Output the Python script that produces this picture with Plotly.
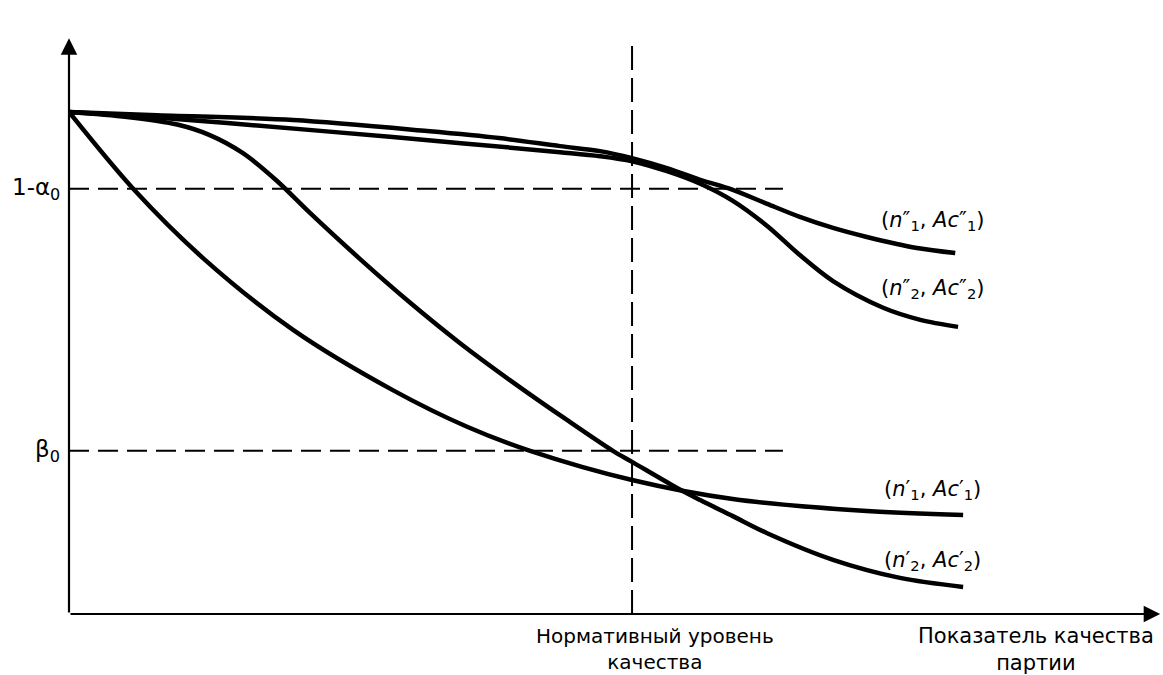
import plotly.graph_objects as go

# Operating characteristic curves (x: quality level, 1.0 = normative level; y: acceptance probability)
x_n1pp = [0, 0.144, 0.398, 0.636, 0.764, 0.872, 0.943, 1.0, 1.062, 1.121, 1.179, 1.240, 1.298, 1.357, 1.417, 1.506, 1.574]
y_n1pp = [1.0, 0.994, 0.984, 0.962, 0.948, 0.932, 0.922, 0.908, 0.888, 0.865, 0.845, 0.817, 0.791, 0.769, 0.751, 0.729, 0.719]

x_n2pp = [0, 0.144, 0.281, 0.575, 0.872, 0.943, 1.0, 1.062, 1.121, 1.179, 1.240, 1.298, 1.357, 1.446, 1.512, 1.579]
y_n2pp = [1.0, 0.990, 0.978, 0.950, 0.920, 0.912, 0.902, 0.882, 0.857, 0.823, 0.773, 0.715, 0.663, 0.610, 0.586, 0.572]

x_n1p = [0, 0.114, 0.238, 0.398, 0.575, 0.707, 0.819, 1.0, 1.179, 1.417, 1.588]
y_n1p = [1.0, 0.847, 0.709, 0.566, 0.446, 0.373, 0.325, 0.267, 0.229, 0.205, 0.197]

x_n2p = [0, 0.103, 0.192, 0.250, 0.309, 0.369, 0.428, 0.517, 0.606, 0.694, 0.783, 0.885, 0.966, 1.0, 1.080, 1.121, 1.179, 1.240, 1.357, 1.476, 1.588]
y_n2p = [1.0, 0.990, 0.975, 0.954, 0.918, 0.863, 0.799, 0.707, 0.620, 0.540, 0.466, 0.386, 0.325, 0.303, 0.251, 0.227, 0.195, 0.161, 0.108, 0.072, 0.054]

curve_labels = [
    "(<i>n</i>″<sub>1</sub>, <i>Ac</i>″<sub>1</sub>)",
    "(<i>n</i>″<sub>2</sub>, <i>Ac</i>″<sub>2</sub>)",
    "(<i>n</i>′<sub>1</sub>, <i>Ac</i>′<sub>1</sub>)",
    "(<i>n</i>′<sub>2</sub>, <i>Ac</i>′<sub>2</sub>)",
]
label_y = [0.783, 0.647, 0.247, 0.106]
label_x = 1.533

one_minus_alpha = 0.847
beta0 = 0.325
norm_level = 1.0
hline_end = 1.268
vline_top = 1.133
x_axis_end = 1.938
y_axis_end = 1.147

x_range = [0, 1.943]
y_range = [0, 1.2231]

FONT = "DejaVu Sans, Liberation Sans, Arial, sans-serif"

curves = [(x_n1pp, y_n1pp), (x_n2pp, y_n2pp), (x_n1p, y_n1p), (x_n2p, y_n2p)]

fig = go.Figure()
for xs, ys in curves:
    fig.add_trace(go.Scatter(x=xs, y=ys, mode="lines",
                             line=dict(color="black", width=4.5, shape="spline", smoothing=0.9),
                             showlegend=False, hoverinfo="skip"))

shapes = [
    dict(type="line", xref="x", yref="y", x0=0, x1=hline_end, y0=one_minus_alpha, y1=one_minus_alpha,
         line=dict(color="black", width=2, dash="20px,9px")),
    dict(type="line", xref="x", yref="y", x0=0, x1=hline_end, y0=beta0, y1=beta0,
         line=dict(color="black", width=2, dash="20px,9px")),
    dict(type="line", xref="x", yref="y", x0=norm_level, x1=norm_level, y0=0, y1=vline_top,
         line=dict(color="black", width=2, dash="24px,8px")),
]

annotations = []
# axes with arrows
annotations.append(dict(x=x_axis_end, y=0, ax=0, ay=0, xref="x", yref="y", axref="x", ayref="y",
                        showarrow=True, arrowhead=2, arrowsize=1.5, arrowwidth=2.2, arrowcolor="black",
                        standoff=0, startstandoff=0, text=""))
annotations.append(dict(x=0, y=y_axis_end, ax=0, ay=0, xref="x", yref="y", axref="x", ayref="y",
                        showarrow=True, arrowhead=2, arrowsize=1.5, arrowwidth=2.2, arrowcolor="black",
                        standoff=0, startstandoff=0, text=""))

for lab, ly in zip(curve_labels, label_y):
    annotations.append(dict(x=label_x, y=ly, xref="x", yref="y", text=lab, showarrow=False,
                            font=dict(family=FONT, size=21, color="black"), xanchor="center", yanchor="middle"))

# labels outside the plotting area (paper coordinates)
annotations.append(dict(x=-0.006, y=0.692, xref="paper", yref="paper", text="1-α<sub>0</sub>",
                        showarrow=False, xanchor="right", yanchor="middle",
                        font=dict(family=FONT, size=23, color="black")))
annotations.append(dict(x=-0.006, y=0.2655, xref="paper", yref="paper", text="β<sub>0</sub>",
                        showarrow=False, xanchor="right", yanchor="middle",
                        font=dict(family=FONT, size=23, color="black")))
annotations.append(dict(x=0.5356, y=-0.013, xref="paper", yref="paper", text="Нормативный уровень<br>качества",
                        showarrow=False, xanchor="center", yanchor="top", align="center",
                        font=dict(family=FONT, size=20, color="black")))
annotations.append(dict(x=0.8839, y=-0.013, xref="paper", yref="paper", text="Показатель качества<br>партии",
                        showarrow=False, xanchor="center", yanchor="top", align="center",
                        font=dict(family=FONT, size=21, color="black")))

fig.update_layout(
    width=1163, height=675,
    margin=dict(l=69, r=0, t=0, b=61),
    paper_bgcolor="white", plot_bgcolor="white",
    xaxis=dict(range=x_range, showgrid=False, zeroline=False, showticklabels=False, showline=False, ticks=""),
    yaxis=dict(range=y_range, showgrid=False, zeroline=False, showticklabels=False, showline=False, ticks=""),
    shapes=shapes, annotations=annotations, showlegend=False,
)

fig.write_html("out.html", config={"displayModeBar": False},
               post_script="document.body.style.margin='0';")
